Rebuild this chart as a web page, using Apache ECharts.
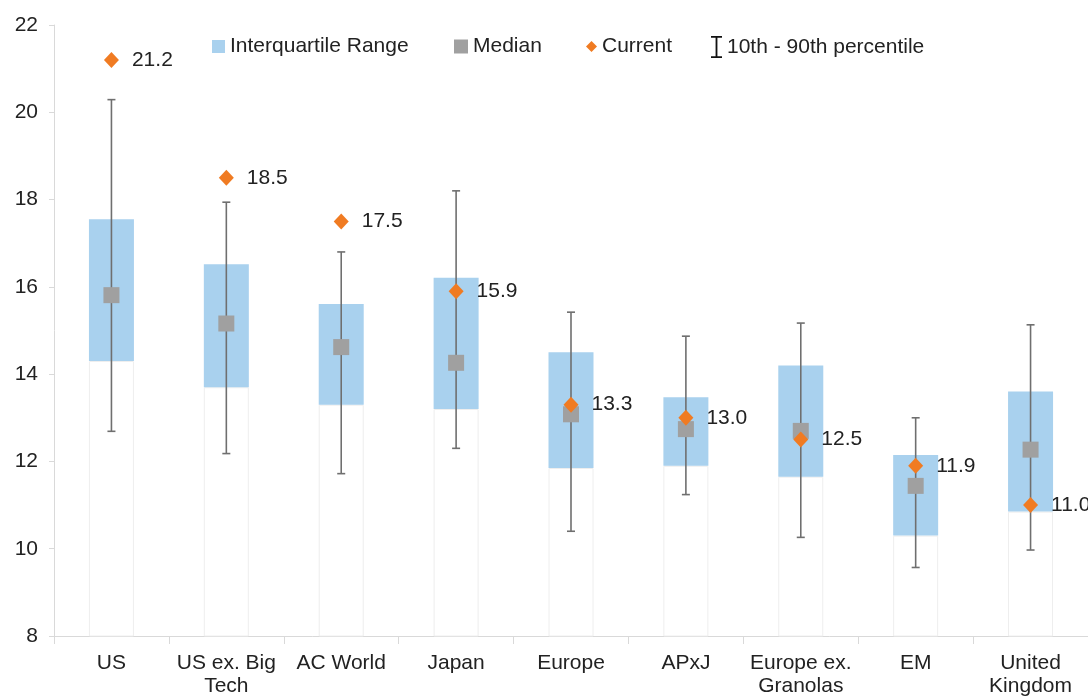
<!DOCTYPE html>
<html>
<head>
<meta charset="utf-8">
<script src="https://cdn.jsdelivr.net/npm/echarts@6/dist/echarts.min.js"></script>
<style>
html,body{margin:0;padding:0;background:#fff;}
#chart{width:1088px;height:698px;}
</style>
</head>
<body>
<div id="chart"></div>
<script>
const categories = ['US', 'US ex. Big\nTech', 'AC World', 'Japan', 'Europe', 'APxJ', 'Europe ex.\nGranolas', 'EM', 'United\nKingdom'];
const q1Values      = [14.3, 13.7, 13.3, 13.2, 11.85, 11.9, 11.65, 10.3, 10.85];
const q3Values      = [17.55, 16.52, 15.61, 16.21, 14.5, 13.47, 14.2, 12.15, 13.6];
const medianValues  = [15.81, 15.16, 14.62, 14.26, 13.08, 12.74, 12.7, 11.44, 12.27];
const currentValues = [21.2, 18.5, 17.5, 15.9, 13.3, 13.0, 12.5, 11.9, 11.0];
const p10Values     = [12.69, 12.18, 11.72, 12.3, 10.4, 11.24, 10.26, 9.57, 9.97];
const p90Values     = [20.29, 17.94, 16.8, 18.2, 15.42, 14.87, 15.17, 13.0, 15.13];
const yTicks = {min: 8, max: 22, interval: 2};

const FONT = 'Liberation Sans, Arial, sans-serif';
const iqrSpan = q3Values.map((v, i) => +(v - q1Values[i]).toFixed(3));
const whiskerData = categories.map((c, i) => [i, p10Values[i], p90Values[i]]);

const chart = echarts.init(document.getElementById('chart'), null, {renderer: 'canvas'});

function legendCfg(name, left, w, h, icon, color) {
  return {
    left: left, top: 31,
    itemWidth: w, itemHeight: h,
    textStyle: {fontFamily: FONT, fontSize: 21, color: '#222'},
    data: [{name: name, icon: icon, itemStyle: color ? {color: color} : undefined}],
    selectedMode: false
  };
}

const option = {
  animation: false,
  backgroundColor: '#ffffff',
  textStyle: {fontFamily: FONT},
  grid: {left: 54, right: -6, top: 25, bottom: 60, containLabel: false},
  legend: [
    legendCfg('Interquartile Range', 207, 13, 13, 'rect'),
    legendCfg('Median', 449, 14, 14, 'rect'),
    legendCfg('Current', 581, 11, 11, 'diamond'),
    legendCfg('10th - 90th percentile', 706, 11, 24,
      'path://M0,0 L12,0 L12,2 L7,2 L7,22 L12,22 L12,24 L0,24 L0,22 L5,22 L5,2 L0,2 Z', '#111')
  ],
  xAxis: {
    type: 'category',
    data: categories,
    axisLine: {lineStyle: {color: '#d9d9d9', width: 1}},
    axisTick: {show: true, alignWithLabel: false, length: 8, lineStyle: {color: '#d9d9d9'}},
    axisLabel: {fontFamily: FONT, fontSize: 21, color: '#222', margin: 16, lineHeight: 23, interval: 0}
  },
  yAxis: {
    type: 'value',
    min: yTicks.min, max: yTicks.max, interval: yTicks.interval,
    axisLine: {show: true, lineStyle: {color: '#d9d9d9', width: 1}},
    axisTick: {show: true, length: 5, lineStyle: {color: '#d9d9d9'}},
    splitLine: {show: false},
    axisLabel: {fontFamily: FONT, fontSize: 21, color: '#222', margin: 16}
  },
  series: [
    {
      name: 'base',
      type: 'bar',
      stack: 'box',
      barWidth: 45,
      clip: true,
      data: q1Values,
      itemStyle: {color: 'rgba(255,255,255,0)', borderColor: '#eeeeee', borderWidth: 1},
      emphasis: {disabled: true},
      silent: true
    },
    {
      name: 'Interquartile Range',
      type: 'bar',
      stack: 'box',
      barWidth: 45,
      data: iqrSpan,
      itemStyle: {color: '#a9d1ee'},
      emphasis: {disabled: true}
    },
    {
      name: '10th - 90th percentile',
      type: 'custom',
      data: whiskerData,
      itemStyle: {color: '#6f6f6f'},
      renderItem: function (params, api) {
        const idx = api.value(0);
        const lo = api.coord([idx, api.value(1)]);
        const hi = api.coord([idx, api.value(2)]);
        const cap = 4;
        const style = {stroke: '#6f6f6f', lineWidth: 1.6};
        return {
          type: 'group',
          children: [
            {type: 'line', shape: {x1: lo[0], y1: lo[1], x2: hi[0], y2: hi[1]}, style: style},
            {type: 'line', shape: {x1: lo[0] - cap, y1: lo[1], x2: lo[0] + cap, y2: lo[1]}, style: style},
            {type: 'line', shape: {x1: hi[0] - cap, y1: hi[1], x2: hi[0] + cap, y2: hi[1]}, style: style}
          ]
        };
      },
      z: 3
    },
    {
      name: 'Median',
      type: 'scatter',
      symbol: 'rect',
      symbolSize: 16,
      data: medianValues,
      itemStyle: {color: '#a0a0a0', opacity: 1},
      z: 4
    },
    {
      name: 'Current',
      type: 'scatter',
      symbol: 'diamond',
      symbolSize: [15, 16],
      data: currentValues,
      itemStyle: {color: '#f07b22', opacity: 1},
      label: {
        show: true,
        position: 'right',
        distance: 13,
        fontFamily: FONT,
        fontSize: 21,
        color: '#222',
        formatter: p => p.value.toFixed(1)
      },
      z: 5
    }
  ]
};

chart.setOption(option);
</script>
</body>
</html>
